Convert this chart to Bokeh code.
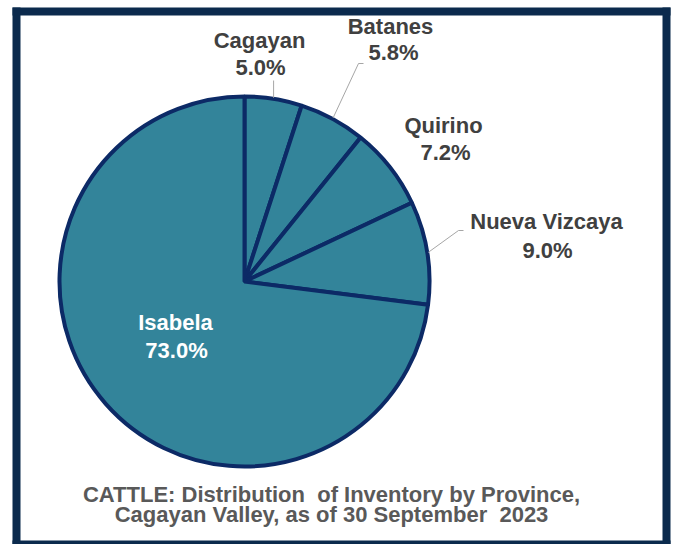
import math
from bokeh.plotting import figure
from bokeh.models import Range1d
from bokeh.core.properties import value
from bokeh.embed import file_html
from bokeh.resources import INLINE

# ---- data ----
provinces = ["Cagayan", "Batanes", "Quirino", "Nueva Vizcaya", "Isabela"]
shares = [5.0, 5.8, 7.2, 9.0, 73.0]
pct_labels = ["5.0%", "5.8%", "7.2%", "9.0%", "73.0%"]
title_lines = ["CATTLE: Distribution\u00a0 of Inventory by Province,",
               "Cagayan Valley, as of 30 September\u00a0 2023"]

W, H = 673, 544


def px(x):
    return x


def py(y):
    return H - y


p = figure(width=W, height=H, output_backend="svg", toolbar_location=None,
           x_range=Range1d(0, W), y_range=Range1d(0, H), min_border=0,
           outline_line_color=None, background_fill_color="white")
p.axis.visible = False
p.grid.visible = False

FRAME = "#0B2A4D"
# frame bars (page coordinates)
p.quad(left=[px(12), px(12), px(662), px(12)], right=[px(20), px(670), px(670), px(670)],
       top=[py(7), py(7), py(7), py(540)], bottom=[py(544), py(15), py(544), py(544)],
       fill_color=FRAME, line_color=None)

# pie
cx, cy, R = px(244), py(281), 185
total = sum(shares)
starts, ends, mids = [], [], []
cum = 0.0
for s in shares:
    a0 = math.pi / 2 - cum / total * 2 * math.pi
    cum += s
    a1 = math.pi / 2 - cum / total * 2 * math.pi
    starts.append(a0)
    ends.append(a1)
    mids.append((a0 + a1) / 2)

p.wedge(x=cx, y=cy, radius=R, start_angle=starts, end_angle=ends, direction="clock",
        fill_color="#33849A", line_color="#0C2A66", line_width=4)

# leader lines
LEAD = "#A6A6A6"
def arc_pt(i, extra=0):
    return cx + (R + extra) * math.cos(mids[i]), cy + (R + extra) * math.sin(mids[i])

x0, y0 = arc_pt(0, 1)
p.line([x0, x0], [y0, py(80)], line_color=LEAD, line_width=1)
x0, y0 = arc_pt(1, 1)
p.line([x0, px(358), px(363)], [y0, py(63), py(63)], line_color=LEAD, line_width=1)
x0, y0 = arc_pt(3, 1)
p.line([x0, px(458), px(463)], [y0, py(230), py(230)], line_color=LEAD, line_width=1)

# labels (page positions)
name_pos = [(259, 40), (390, 26), (443, 125), (546, 221), (175, 322)]
pct_pos = [(260, 67), (393, 52), (445, 152), (547, 250), (176, 350)]
colors = ["#404040"] * 4 + ["white"]
for i in range(len(provinces)):
    p.text(x=[px(name_pos[i][0])], y=[py(name_pos[i][1])], text=[provinces[i]],
           text_align="center", text_baseline="middle", text_font=value("Liberation Sans"),
           text_font_style="bold", text_font_size="22px", text_color=colors[i])
    p.text(x=[px(pct_pos[i][0])], y=[py(pct_pos[i][1])], text=[pct_labels[i]],
           text_align="center", text_baseline="middle", text_font=value("Liberation Sans"),
           text_font_style="bold", text_font_size="22px", text_color=colors[i])

# title
for j, (ty, line) in enumerate(zip([494, 514], title_lines)):
    p.text(x=[px(331)], y=[py(ty)], text=[line], text_align="center", text_baseline="middle",
           text_font=value("Liberation Sans"), text_font_style="bold",
           text_font_size="22px", text_color="#595959")

open("out.html", "w").write(file_html(p, INLINE))
